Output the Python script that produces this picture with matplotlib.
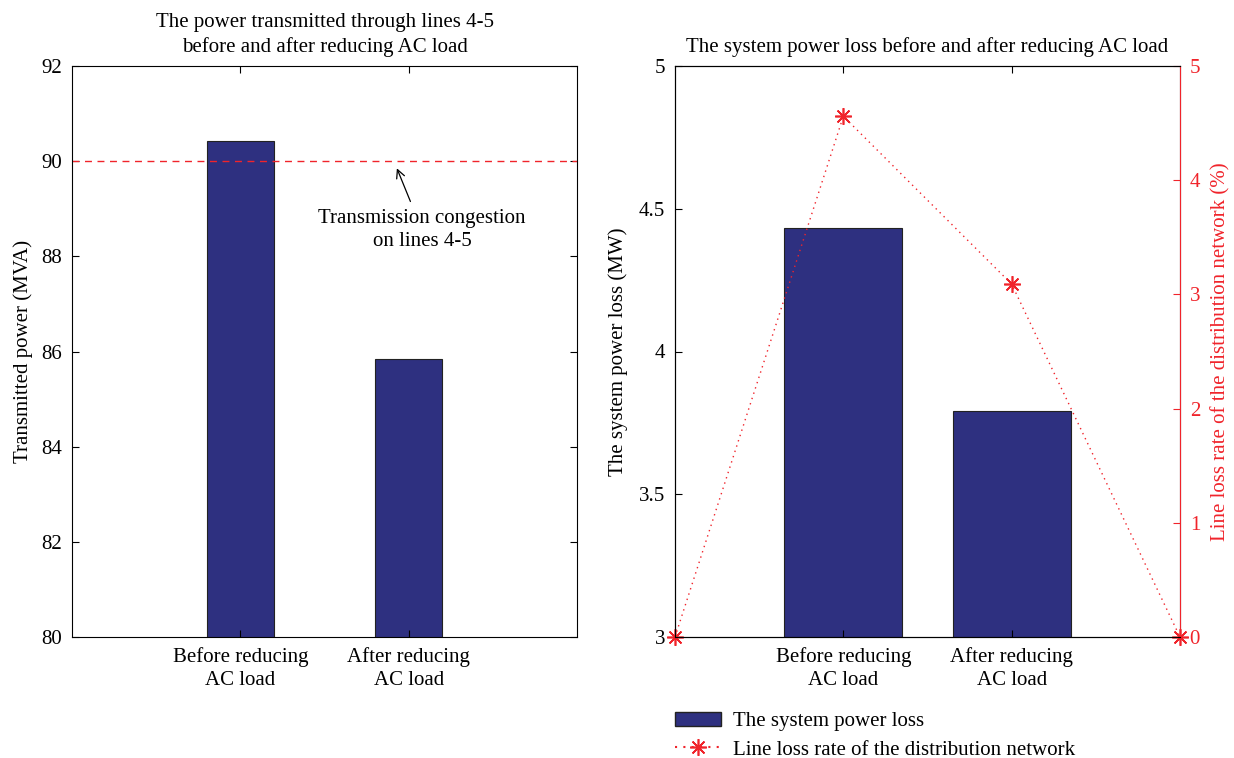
import matplotlib
matplotlib.use("Agg")
import matplotlib.pyplot as plt
from matplotlib.lines import Line2D
from matplotlib.patches import Patch

plt.rcParams['font.family'] = ['Liberation Serif', 'DejaVu Serif']
plt.rcParams['font.size'] = 15

categories = ["Before reducing\nAC load", "After reducing\nAC load"]
transmitted_power = [90.42, 85.84]
congestion_limit = 90.0
system_loss = [4.433, 3.79]
line_loss_x = [0, 1, 2, 3]
line_loss_rate = [0.0, 4.56, 3.09, 0.0]

bar_color = '#2E3080'
red = '#F0242B'
ast = (8, 2, 0)

fig = plt.figure(figsize=(12.34, 7.58), dpi=100)

# Left chart
ax1 = fig.add_axes([72/1234, 1-637/758, 505/1234, 571/758])
ax1.bar([1, 2], transmitted_power, width=0.4, color=bar_color, edgecolor='#222222', linewidth=0.8)
ax1.axhline(congestion_limit, color=red, linestyle=(0, (5, 4)), linewidth=1)
ax1.set_xlim(0, 3)
ax1.set_ylim(80, 92)
ax1.set_yticks([80, 82, 84, 86, 88, 90, 92])
ax1.set_xticks([1, 2])
ax1.set_xticklabels(categories, linespacing=1.3)
ax1.tick_params(direction='in', top=True, right=True, length=5, width=0.8, pad=7)
ax1.set_ylabel('Transmitted power (MVA)', labelpad=6)
ax1.set_title('The power transmitted through lines 4-5\nbefore and after reducing AC load', fontsize=15, pad=10,
              linespacing=1.35)
ax1.annotate('Transmission congestion\non lines 4-5', xy=(1.93, 89.85), xytext=(2.08, 88.55),
             ha='center', va='center', fontsize=15, linespacing=1.25,
             arrowprops=dict(arrowstyle='->', color='black', lw=0.9, shrinkA=4, shrinkB=0))

# Right chart
ax2 = fig.add_axes([675/1234, 1-637/758, 505/1234, 571/758])
ax2.bar([1, 2], system_loss, width=0.7, color=bar_color, edgecolor='#222222', linewidth=0.8)
ax2.set_xlim(0, 3)
ax2.set_ylim(3, 5)
ax2.set_yticks([3, 3.5, 4, 4.5, 5])
ax2.set_yticklabels(['3', '3.5', '4', '4.5', '5'])
ax2.set_xticks([1, 2])
ax2.set_xticklabels(categories, linespacing=1.3)
ax2.tick_params(direction='in', top=True, right=True, length=5, width=0.8, pad=7)
ax2.set_ylabel('The system power loss (MW)', labelpad=8)
ax2.set_title('The system power loss before and after reducing AC load', fontsize=15, pad=10)

ax3 = ax2.twinx()
ax3.plot(line_loss_x, line_loss_rate, color=red, linestyle=(0, (1, 3)), linewidth=1,
         marker=ast, markersize=12, markeredgewidth=1.2, markeredgecolor=red, clip_on=False)
ax3.set_ylim(0, 5)
ax3.set_yticks([0, 1, 2, 3, 4, 5])
ax3.tick_params(direction='in', colors=red, length=5, width=0.8, pad=7)
ax3.spines['right'].set_color(red)
ax3.set_ylabel('Line loss rate of the distribution network (%)', color=red, labelpad=8)

handles = [Patch(facecolor=bar_color, edgecolor='#222222', label='The system power loss'),
           Line2D([0], [0], color=red, linestyle=(0, (1, 3)), marker=ast, markersize=12,
                  markeredgewidth=1.2, markeredgecolor=red,
                  label='Line loss rate of the distribution network')]
fig.legend(handles=handles, loc='upper left', bbox_to_anchor=(656/1234, 1-693/758),
           frameon=False, fontsize=15, handlelength=2.2, labelspacing=0.42, handletextpad=0.6)

fig.savefig('out.png', dpi=100)
